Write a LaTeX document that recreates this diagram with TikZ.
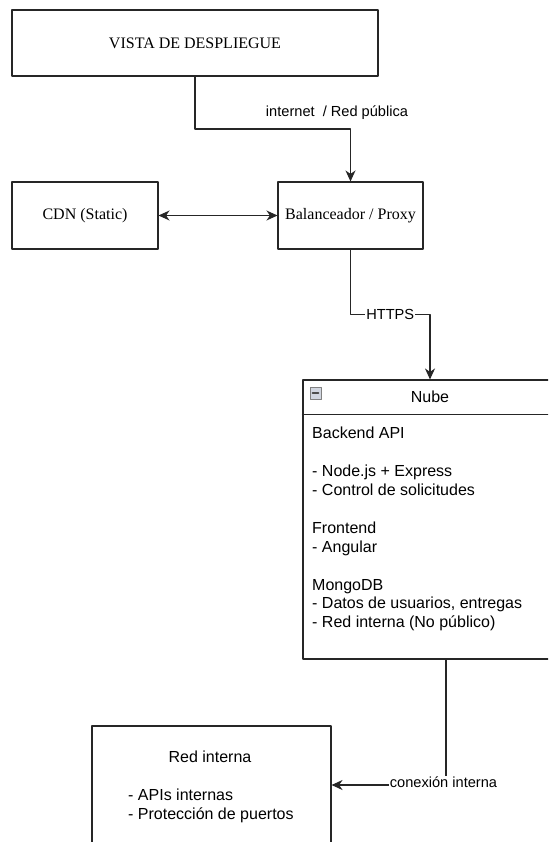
\documentclass[tikz,border=0pt]{standalone}
\usepackage{fontspec}
\setmainfont{Liberation Serif}
\setsansfont{Liberation Sans}
\usepackage{tikz}
\usetikzlibrary{arrows.meta}
\usetikzlibrary{positioning}
\definecolor{linegray}{rgb}{0.15,0.15,0.15}
\definecolor{togglegray}{rgb}{0.82,0.84,0.88}

\begin{document}
\begin{tikzpicture}[line cap=round,line join=round, x=1pt,y=-1pt,
	box/.style={draw=linegray, line width=1.1pt, rectangle, inner sep=0pt, font=\fontsize{16}{18.9}\selectfont},
	sanstxt/.style={inner sep=0pt, font=\sffamily\fontsize{16}{18.9}\selectfont, align=left},
	edgelbl/.style={fill=white, text=black, inner sep=1pt, font=\sffamily\fontsize{14.6}{17}\selectfont},
	arr/.style={-{Stealth[length=11pt,width=10pt,inset=3.5pt]}, line width=1.1pt, color=linegray},
	twoarr/.style={{Stealth[length=11pt,width=10pt,inset=3.5pt]}-{Stealth[length=11pt,width=10pt,inset=3.5pt]}, line width=1.1pt, color=linegray}]
	\useasboundingbox (0,0) rectangle (548,842);
	\fill[white] (0,0) rectangle (548,842);
	\clip (0,0) rectangle (548,842);
	% cajas
	\node[box, minimum width=366pt, minimum height=66pt] (vista) at (195,43) {VISTA DE DESPLIEGUE};
	\node[box, minimum width=146pt, minimum height=67pt] (cdn) at (85,215.5) {CDN (Static)};
	\node[box, minimum width=145pt, minimum height=67pt] (proxy) at (350.5,215.5) {Balanceador / Proxy};
	\node[box, minimum width=254pt, minimum height=279pt] (nube) at (430,519.5) {};
	\draw[draw=linegray, line width=1.1pt] ([yshift=-35pt]nube.north west) -- ([yshift=-35pt]nube.north east);
	\node[draw=gray, fill=togglegray, minimum width=11pt, minimum height=12pt, inner sep=0pt] (toggle) at (315.5,393) {};
	\draw[line width=1.6pt, color=black!70] ([xshift=-3pt]toggle.center) -- ([xshift=3pt]toggle.center);
	\node[sanstxt] (nubetit) at (430,397) {Nube};
	\node[sanstxt, anchor=north west] (nubetxt) at (312,427) {Backend API\\[18.9pt]- Node.js + Express\\- Control de solicitudes\\[18.9pt]Frontend\\- Angular\\[18.9pt]MongoDB\\- Datos de usuarios, entregas\\- Red interna (No público)};
	\node[box, minimum width=239pt, minimum height=118pt] (redint) at (211.5,785) {};
	\node[sanstxt] (redtit) at (210,757) {Red interna};
	\node[sanstxt, anchor=north west] (redtxt) at (128,789) {- APIs internas\\- Protección de puertos};
	% conexiones
	\coordinate (hop1) at (0,129);
	\coordinate (hop2) at (0,314.5);
	\draw[arr] (vista.south) -- (vista.south |- hop1) -| (proxy.north);
	\node[edgelbl, fill=none] (netlbl) at (337,113) {internet~ / Red pública};
	\draw[twoarr] (cdn) -- (proxy);
	\draw[arr] (proxy.south) -- (proxy.south |- hop2) -- node[edgelbl] (httpslbl) {HTTPS} (nube.north |- hop2) -- (nube.north);
	\draw[arr] ([xshift=16pt]nube.south) |- node[edgelbl, pos=0.5, xshift=-2.5pt, yshift=3pt] (intlbl) {conexión interna} (redint.east);
\end{tikzpicture}
\end{document}
